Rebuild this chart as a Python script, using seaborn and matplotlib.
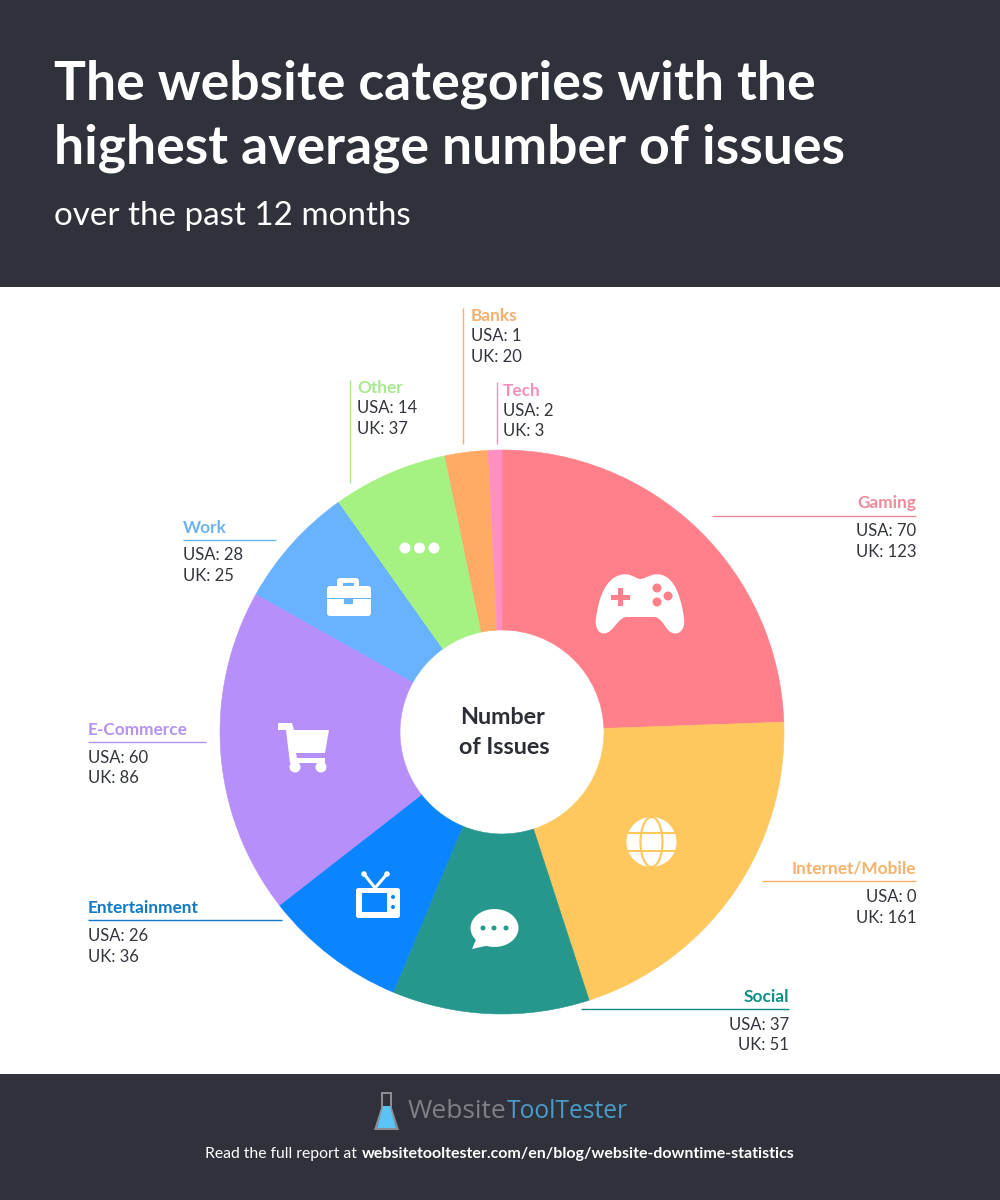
import matplotlib
matplotlib.use("Agg")
import matplotlib.pyplot as plt
import seaborn as sns
from matplotlib.patches import Rectangle, Circle, Ellipse, FancyBboxPatch, Polygon, PathPatch
from matplotlib.path import Path

categories = ["Gaming", "Internet/Mobile", "Social", "Entertainment", "E-Commerce", "Work", "Other", "Banks", "Tech"]
usa_values = [70, 0, 37, 26, 60, 28, 14, 1, 2]
uk_values = [123, 161, 51, 36, 86, 25, 37, 20, 3]
# slice widths as measured on the picture (degrees); they differ slightly from the printed totals
slice_degrees = [88, 74, 40.7, 29.4, 67.2, 25.3, 23.7, 8.9, 2.8]
slice_colors = ["#FF808B", "#FFC85F", "#26978D", "#0A84FF", "#B78FFB", "#69B2FF", "#A5F283", "#FFAB66", "#FF8FC0"]
label_colors = ["#EE8C9C", "#F6B26B", "#0E8F84", "#1279C4", "#B592F0", "#6CB4F0", "#A8E88F", "#F3B06E", "#F48FBB"]

DARK = "#2F323B"
TEXT = "#33363D"

sns.set_theme(style="white")
plt.rcParams["font.family"] = ["Lato", "DejaVu Sans"]

fig = plt.figure(figsize=(10, 12), dpi=100)
ax = fig.add_axes([0, 0, 1, 1])
ax.set_xlim(0, 1000)
ax.set_ylim(0, 1200)
ax.axis("off")

def Y(y):
    return 1200 - y

def rect(x0, y0, x1, y1, color, z=1):
    ax.add_patch(Rectangle((x0, Y(y1)), x1 - x0, y1 - y0, fc=color, ec="none", zorder=z))

def line(x0, y0, x1, y1, color):
    ax.plot([x0, x1], [Y(y0), Y(y1)], color=color, lw=1.0, zorder=2, solid_capstyle="butt")

def txt(x, y, s, size, color=TEXT, weight="normal", ha="left", family=None, z=6):
    kw = {"family": family} if family else {}
    ax.text(x, Y(y), s, fontsize=size, color=color, fontweight=weight, ha=ha, va="center", zorder=z, **kw)

# header and footer bands
rect(0, 0, 1000, 287, DARK)
rect(0, 1074, 1000, 1200, DARK)

txt(54, 84, "The website categories with the", 38.5, "white", "bold")
txt(54, 148, "highest average number of issues", 38.5, "white", "bold")
txt(54, 216, "over the past 12 months", 23.9, "white")

# donut
CX, CY, R = 502, Y(732), 282
wedges, _ = ax.pie(slice_degrees, colors=slice_colors, startangle=90, counterclock=False, center=(CX, CY), radius=R,
                   wedgeprops=dict(width=R - 102, linewidth=0.4), frame=False)
for w in wedges:
    w.set_edgecolor(w.get_facecolor())
ax.set_xlim(0, 1000)
ax.set_ylim(0, 1200)
ax.set_aspect("auto")
txt(502, 718, "Number", 16.8, "#2B2E35", "bold", "center")
txt(504, 747, "of Issues", 16.8, "#2B2E35", "bold", "center")

# labels: name x, ha, y of name, y of USA, y of UK, leader line
labels = {
    "Gaming": (916, "right", 503, 531, 552, (712, 516, 916, 516)),
    "Internet/Mobile": (916, "right", 869, 897, 918, (762, 881, 916, 881)),
    "Social": (789, "right", 997, 1025, 1045, (581, 1009, 789, 1009)),
    "Entertainment": (88, "left", 908, 936, 957, (88, 920, 282, 920)),
    "E-Commerce": (88, "left", 730, 758, 778, (88, 742, 206, 742)),
    "Work": (183, "left", 528, 555, 576, (183, 540, 276, 540)),
    "Other": (357, "left", 388, 408, 429, (350, 380, 350, 483)),
    "Banks": (471, "left", 316, 336, 357, (463, 308, 463, 444)),
    "Tech": (503, "left", 391, 411, 431, (497, 382, 497, 444)),
}
for i, c in enumerate(categories):
    x, ha, y0, y1, y2, ln = labels[c]
    txt(x, y0, c, 12.4, label_colors[i], "bold", ha)
    txt(x, y1, f"USA: {usa_values[i]}", 12, TEXT, "normal", ha)
    txt(x, y2, f"UK: {uk_values[i]}", 12, TEXT, "normal", ha)
    line(*ln, label_colors[i])

# icons -------------------------------------------------------------
W = "white"
def add(p, z=5):
    ax.add_patch(p)
    p.set_zorder(z)

def rrect(x0, y0, x1, y1, r, fc=W, z=5):
    add(FancyBboxPatch((x0 + r, Y(y1) + r), x1 - x0 - 2 * r, y1 - y0 - 2 * r,
                       boxstyle=f"round,pad={r},rounding_size={r}", fc=fc, ec="none"), z)

def box(x0, y0, x1, y1, fc, z=6):
    add(Rectangle((x0, Y(y1)), x1 - x0, y1 - y0, fc=fc, ec="none"), z)

def circ(x, y, r, fc=W, z=5):
    add(Circle((x, Y(y)), r, fc=fc, ec="none"), z)

def poly(pts, fc=W, z=5):
    add(Polygon([(x, Y(y)) for x, y in pts], closed=True, fc=fc, ec="none"), z)

def curve(cmds, fc=W):
    verts, codes = [], []
    for code, pts in cmds:
        for (x, y) in pts:
            verts.append((x, Y(y)))
            codes.append(code)
    add(PathPatch(Path(verts, codes), fc=fc, ec="none"))

# gamepad
C4 = Path.CURVE4
curve([(Path.MOVETO, [(620, 575)]),
       (C4, [(630, 572), (636, 579), (640, 579)]), (C4, [(646, 579), (652, 572), (662, 575)]),
       (C4, [(674, 578), (681, 596), (684, 618)]), (C4, [(686, 632), (676, 637), (669, 631)]),
       (C4, [(664, 626), (661, 617), (654, 617)]), (Path.LINETO, [(627, 617)]),
       (C4, [(620, 617), (616, 626), (610, 631)]), (C4, [(603, 637), (594, 632), (596, 618)]),
       (C4, [(599, 596), (606, 579), (620, 575)])])
PINK = slice_colors[0]
box(611, 595, 630, 600, PINK)
box(618, 588, 623, 606, PINK)
for (x, y) in [(657, 588), (668, 596), (657, 602)]:
    circ(x, y, 4.5, PINK, 6)

# globe
YEL = slice_colors[1]
gx, gy = 651.5, 842
circ(gx, gy, 25)
box(gx - 25, 832, gx + 25, 834, YEL)
box(gx - 25, 850, gx + 25, 852, YEL)
add(Ellipse((gx, Y(gy)), 22, 50, fc="none", ec=YEL, lw=1.6), 6)

# speech bubble
add(Ellipse((494.5, Y(928)), 48, 38, fc=W, ec="none"))
poly([(478, 935), (490, 945), (472, 949)])
GRN = slice_colors[2]
for x in [483, 494, 506]:
    circ(x, 928, 2.5, GRN, 6)

# TV
BLU = slice_colors[3]
rrect(356, 888, 400, 918, 2.5)
box(362, 893, 387, 912, BLU)
for y in [897, 907]:
    circ(393, y, 2, BLU, 6)
ax.plot([364, 375, 387], [Y(874), Y(888), Y(874)], color=W, lw=2.2, zorder=5)
circ(364, 874, 2.8)
circ(387, 874, 2.8)

# cart
poly([(278, 723), (292, 723), (294, 730), (329, 730), (325, 753), (296, 753), (297, 758), (325, 758),
      (325, 763), (290, 763), (286, 730), (278, 730)])
circ(295, 767, 5.5)
circ(321, 767, 5.5)

# briefcase
LB = slice_colors[5]
rrect(327, 586, 371, 616, 3)
rrect(337, 578, 359, 590, 3)
box(343, 583, 354, 586, LB)
box(327, 597.5, 371, 599, LB)
box(344, 599, 353, 604, LB)

# dots
for x in [405, 419.5, 434]:
    circ(x, 548, 5.5)

# logo
poly([(381, 1092), (392, 1092), (392, 1108), (399, 1130), (374, 1130), (381, 1108)], "#8A8D93")
poly([(383, 1094), (390, 1094), (390, 1108), (396, 1128), (377, 1128), (383, 1108)], DARK)
poly([(383, 1106), (390, 1106), (396, 1128), (377, 1128)], "#5BC3F5")
txt(408, 1111, "Website", 19, "#7E8186", "normal", family="Open Sans")
txt(507, 1111, "ToolTester", 17.7, "#4B9CC9", "normal", family="Open Sans")

txt(205, 1154, "Read the full report at", 11.3, "white")
txt(362, 1154, "websitetooltester.com/en/blog/website-downtime-statistics", 11.5, "white", "bold")

fig.savefig("out.png", dpi=100, facecolor="white")
